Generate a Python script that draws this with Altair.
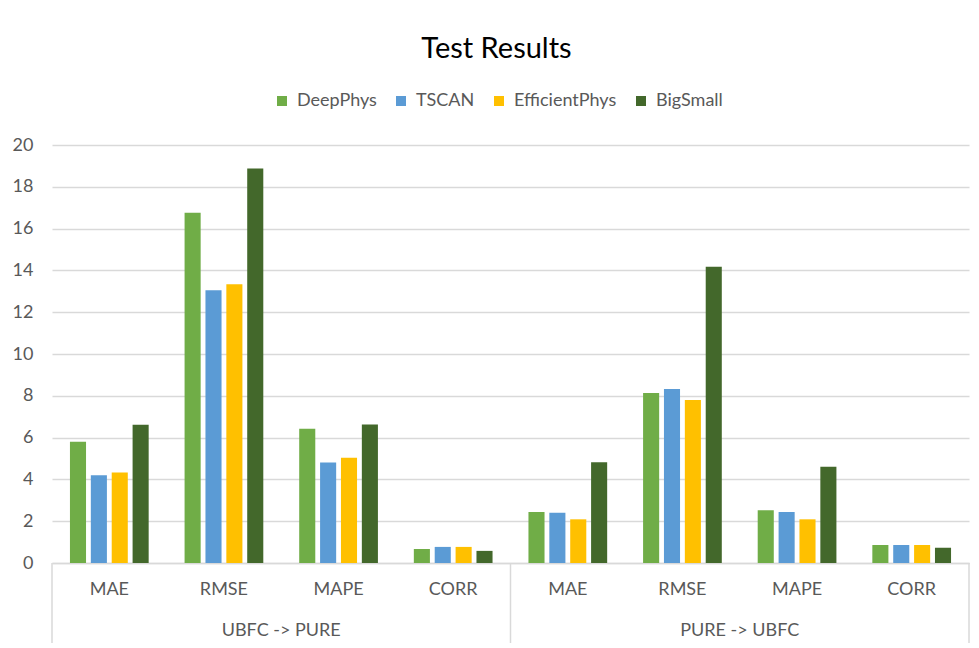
import altair as alt
import pandas as pd

groups = ["UBFC -> PURE", "PURE -> UBFC"]
metrics = ["MAE", "RMSE", "MAPE", "CORR"]
models = ["DeepPhys", "TSCAN", "EfficientPhys", "BigSmall"]
colors = ["#70ad47", "#5b9bd5", "#ffc000", "#43682b"]

# values per model, in order: group 1 metrics, then group 2 metrics
deepphys = [5.80, 16.76, 6.42, 0.67, 2.44, 8.13, 2.52, 0.86]
tscan = [4.20, 13.05, 4.81, 0.77, 2.41, 8.32, 2.44, 0.86]
efficientphys = [4.33, 13.34, 5.03, 0.77, 2.09, 7.80, 2.09, 0.86]
bigsmall = [6.61, 18.88, 6.63, 0.58, 4.82, 14.17, 4.60, 0.73]

series = {"DeepPhys": deepphys, "TSCAN": tscan, "EfficientPhys": efficientphys, "BigSmall": bigsmall}
keys = [f"{g}|{m}" for g in groups for m in metrics]

rows = []
for model, vals in series.items():
    for k, v in zip(keys, vals):
        rows.append({"key": k, "model": model, "value": v})
df = pd.DataFrame(rows)

W, H = 917, 418
FONT = "Lato"
GRAY = "#595959"
LINE = "#d9d9d9"
FS = 18

xscale = alt.Scale(domain=keys, paddingInner=0, paddingOuter=0)

bars = alt.Chart(df).mark_bar().encode(
    x=alt.X("key:N", scale=xscale, title=None,
            axis=alt.Axis(labelExpr="split(datum.label, '|')[1]", ticks=False,
                          domainColor=LINE, domainWidth=1.5, labelFontSize=FS,
                          labelColor=GRAY, labelPadding=17, labelAngle=0, labelFont=FONT)),
    xOffset=alt.XOffset("model:N", sort=models,
                        scale=alt.Scale(paddingInner=0.23, paddingOuter=0.86)),
    y=alt.Y("value:Q", title=None,
            scale=alt.Scale(domain=[0, 20], nice=False),
            axis=alt.Axis(values=list(range(0, 21, 2)), domain=False, ticks=False,
                          gridColor=LINE, gridWidth=1.5, labelFontSize=FS,
                          labelColor=GRAY, labelPadding=19, labelFont=FONT)),
    color=alt.Color("model:N", sort=models,
                    scale=alt.Scale(domain=models, range=colors),
                    legend=alt.Legend(title=None, orient="none", direction="horizontal",
                                      legendX=221, legendY=-53, symbolType="square",
                                      symbolSize=100, symbolStrokeWidth=0,
                                      labelFontSize=FS, labelColor=GRAY, labelFont=FONT,
                                      labelOffset=6, columnPadding=15)),
)

grp_df = pd.DataFrame({"key": [f"{g}|RMSE" for g in groups], "label": groups})
grp_text = alt.Chart(grp_df).mark_text(fontSize=FS, color=GRAY, font=FONT, baseline="middle").encode(
    x=alt.X("key:N", scale=xscale, bandPosition=1),
    y=alt.value(H + 68),
    text="label:N",
)

sep_start = pd.DataFrame({"key": [f"{g}|MAE" for g in groups]})
sep_end = pd.DataFrame({"key": [f"{groups[-1]}|CORR"]})
rule_a = alt.Chart(sep_start).mark_rule(color=LINE, strokeWidth=1.5).encode(
    x=alt.X("key:N", scale=xscale, bandPosition=0),
    y=alt.value(H), y2=alt.value(H + 85),
)
rule_b = alt.Chart(sep_end).mark_rule(color=LINE, strokeWidth=1.5).encode(
    x=alt.X("key:N", scale=xscale, bandPosition=1),
    y=alt.value(H), y2=alt.value(H + 85),
)

chart = alt.layer(bars, rule_a, rule_b, grp_text).properties(
    width=W, height=H,
    autosize=alt.AutoSizeParams(type="none"),
    padding={"left": 44, "top": 137, "right": 2, "bottom": 80},
    title=alt.TitleParams("Test Results", fontSize=29, font=FONT, fontWeight="normal",
                          color="#000000", anchor="middle", offset=28, dx=-14),
).configure(background="white").configure_view(stroke=None)

chart.save("out.html", embed_options={"renderer": "svg", "actions": False})
